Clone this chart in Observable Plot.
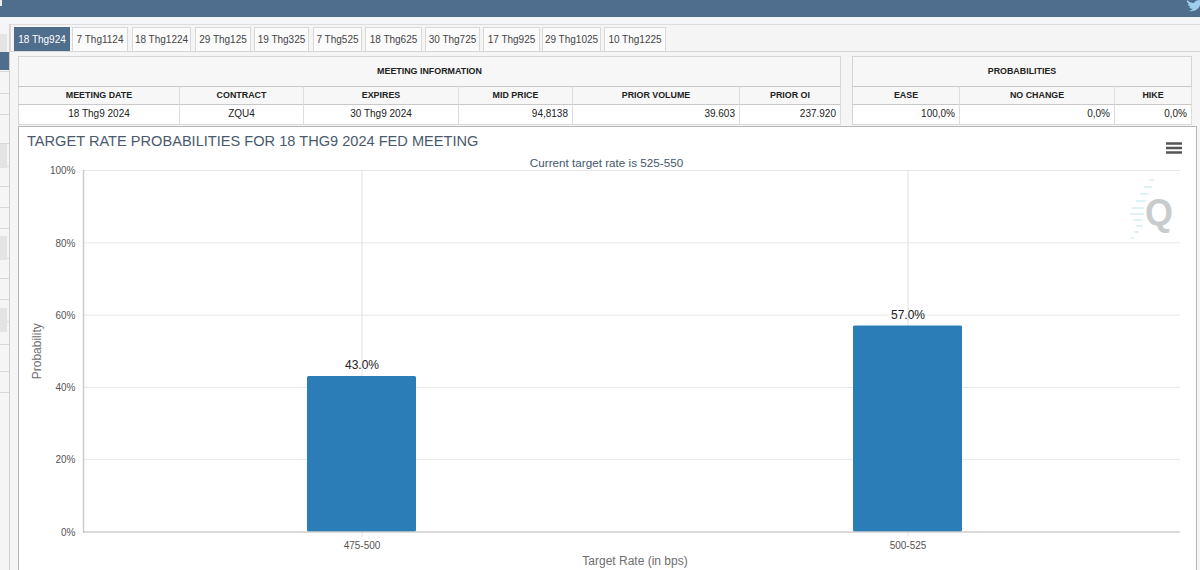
<!DOCTYPE html>
<html>
<head>
<meta charset="utf-8">
<script src="https://cdn.jsdelivr.net/npm/d3@7"></script>
<script src="https://cdn.jsdelivr.net/npm/@observablehq/plot@0.6"></script>
<style>
html,body{margin:0;padding:0;background:#f5f5f5;overflow:hidden}
body{width:1200px;height:570px;position:relative;font-family:"Liberation Sans",Arial,sans-serif;color:#333}
.a{position:absolute;box-sizing:border-box}
.tab{font-size:10px;line-height:23px;text-align:center;background:#fbfbfb;border:1px solid #d9d9d9;border-bottom:none;color:#444;top:27px;height:24px}
.tab.on{background:#4f6d8c;color:#fff;border-color:#4f6d8c}
.cell{font-size:9px;text-align:center;color:#222;white-space:nowrap}
.h{font-weight:bold;font-size:8.9px;background:#f7f7f7;border-right:1px solid #ddd;border-top:1px solid #c9c9c9}
.v{background:#fff;border-right:1px solid #ddd;border-top:1px solid #c9c9c9;font-size:10px;line-height:17px}
.r{text-align:right;padding-right:4px}
#chart svg{display:block;position:absolute;left:0;top:0;background:transparent}
</style>
</head>
<body>
<div class="a" style="left:0;top:0;width:1200px;height:17px;background:#4f6d8c"></div>
<div class="a" style="left:0;top:0;width:2px;height:6px;background:#eee"></div>
<div class="a" style="left:0;top:17px;width:1200px;height:7px;background:#f3f5f6"></div>
<svg class="a" style="left:1186px;top:0" width="14" height="12" viewBox="0 0 14 12"><path d="M1 0 C3 2 5 3 8 3 C9 1 11 0 14 0 L14 5 C13 9 8 12 3 11 C5 10 6 10 7 9 C5 9 4 8 3 7 L4.5 7 C3 6 2 5 2 4 L3 4 C1 3 0.5 1 1 0Z" fill="#9fcdee"/></svg>

<div class="a" id="side" style="left:0;top:0;width:10px;height:570px"></div>
<div class="a" style="left:10px;top:24px;width:1190px;height:28px;background:#f5f5f5;border-top:1px solid #ddd;border-left:1px solid #ddd;border-bottom:1px solid #d5d5d5"></div>
<div id="tabs"></div>
<div id="tables"></div>

<div class="a" style="left:18px;top:126px;width:1179px;height:450px;background:#fff;border:1px solid #b5b5b5"></div>
<div class="a" style="left:27px;top:132px;font-size:14.6px;line-height:18px;color:#4a5a6c;white-space:nowrap">TARGET RATE PROBABILITIES FOR 18 THG9 2024 FED MEETING</div>
<div class="a" style="left:18px;width:1177px;top:156px;text-align:center;font-size:11.7px;color:#44576b">Current target rate is 525-550</div>
<div id="chart" class="a" style="left:0;top:0;width:1200px;height:570px"></div>

<svg class="a" style="left:1128px;top:176px" width="50" height="66" viewBox="0 0 50 66">
  <g stroke="#d8eef4" stroke-width="1.5">
    <path d="M21 4h5M16 11h8M12 18h9M8 25h10M4 32h12M2 38h14M5 44h9M8 50h7M6 56h5M3 62h3"/>
  </g>
  <text x="31" y="49" text-anchor="middle" font-family="Liberation Sans,Arial" font-weight="bold" font-size="36" fill="#c9cccd">Q</text>
</svg>
<svg class="a" style="left:1166px;top:142px" width="16" height="12"><path d="M0 1.5h16M0 6h16M0 10.5h16" stroke="#555" stroke-width="2.4"/></svg>

<script>
// Chart values
const targetRates = ["475-500", "500-525"];
const probabilities = [43.0, 57.0];
const yTicks = [0, 20, 40, 60, 80, 100];

// Page furniture text
const tabLabels = ["18 Thg924","7 Thg1124","18 Thg1224","29 Thg125","19 Thg325","7 Thg525","18 Thg625","30 Thg725","17 Thg925","29 Thg1025","10 Thg1225"];
const tabEdges = [[14,70],[72,128],[132,191],[195,251],[254,309],[313,362],[365,422],[425,480],[483,540],[542,601],[604,666]];
const meetingHeads = ["MEETING DATE","CONTRACT","EXPIRES","MID PRICE","PRIOR VOLUME","PRIOR OI"];
const meetingValues = ["18 Thg9 2024","ZQU4","30 Thg9 2024","94,8138","39.603","237.920"];
const meetingAlign = ["c","c","c","r","r","r"];
const meetingEdges = [18,180,304,459,573,740,841];
const probHeads = ["EASE","NO CHANGE","HIKE"];
const probValues = ["100,0%","0,0%","0,0%"];
const probEdges = [852,960,1115,1192];
const sideRows = [52,71,93,114,143,166,186,207,228,258,278,299,321,344,371,392];
const sideBlocks = [[34,20],[144,24],[236,24],[308,24]];

function el(parent, cls, style, text){
  const d=document.createElement("div");d.className="a "+cls;d.style.cssText=style;
  if(text!=null)d.textContent=text;parent.appendChild(d);return d;
}
const tabs=document.getElementById("tabs");
tabLabels.forEach((t,i)=>{
  const [a,b]=tabEdges[i];
  el(tabs,"tab"+(i===0?" on":""),`left:${a}px;width:${b-a}px`,t);
});
const tables=document.getElementById("tables");
function table(title,edges,heads,vals,al){
  const L=edges[0],R=edges[edges.length-1];
  el(tables,"cell",`left:${L}px;top:56px;width:${R-L}px;height:31px;background:#f7f7f7;border:1px solid #d5d5d5;font-weight:bold;font-size:8.9px;line-height:29px`,title);
  heads.forEach((h,i)=>{
    const w=edges[i+1]-edges[i];
    el(tables,"cell h",`left:${edges[i]}px;top:86px;width:${w}px;height:19px;line-height:16px;${i===0?"border-left:1px solid #d5d5d5;":""}`,h);
    el(tables,"cell v"+(al[i]==="r"?" r":""),`left:${edges[i]}px;top:104px;width:${w}px;height:21px;border-bottom:1px solid #d5d5d5;${i===0?"border-left:1px solid #d5d5d5;":""}`,vals[i]);
  });
}
table("MEETING INFORMATION",meetingEdges,meetingHeads,meetingValues,meetingAlign);
table("PROBABILITIES",probEdges,probHeads,probValues,["r","r","r"]);
const side=document.getElementById("side");
sideRows.forEach(y=>el(side,"",`left:0;top:${y}px;width:9px;height:1px;background:#d8d8d8`));
sideBlocks.forEach(([y,h])=>el(side,"",`left:0;top:${y}px;width:7px;height:${h}px;background:#e4e4e4`));
el(side,"",`left:0;top:52px;width:10px;height:18px;background:#4f6d8c`);
el(side,"",`left:9px;top:24px;width:1px;height:546px;background:#d0d0d0`);

const data = targetRates.map((rate,i)=>({rate,value:probabilities[i]}));
const chart = Plot.plot({
  width:1200,height:570,
  marginTop:170,marginBottom:38.5,marginLeft:83,marginRight:20,
  style:{background:"transparent",fontFamily:"Liberation Sans, Arial, sans-serif",overflow:"visible"},
  x:{type:"band",domain:targetRates,range:[88.5,1180.5],paddingInner:0.8,paddingOuter:0.4,align:0.5,axis:null},
  y:{domain:[0,100],axis:null},
  marks:[
    Plot.ruleY(yTicks.filter(d=>d>0),{stroke:"#e6e6e6",strokeWidth:1}),
    Plot.ruleX(targetRates,{x:d=>d,y1:100,y2:0,insetBottom:-5,stroke:"#e0e0e0",strokeWidth:1}),
    Plot.frame({anchor:"left",stroke:"#cccccc",strokeWidth:1.5}),
    Plot.barY(data,{x:"rate",y:"value",fill:"#2b7db8",rx:1.5}),
    Plot.ruleY([0],{stroke:"#b5b5b5",strokeWidth:1}),
    Plot.text(data,{x:"rate",y:"value",text:d=>d.value.toFixed(1)+"%",dy:-11,fontSize:12,fill:"#222"}),
    Plot.axisY({ticks:yTicks,tickSize:0,tickPadding:8,dy:0.5,tickFormat:d=>d+"%",fontSize:10,color:"#555",label:null,anchor:"left"}),
    Plot.axisX({tickSize:0,tickPadding:10,fontSize:10,color:"#555",label:null,anchor:"bottom"}),
    Plot.text(["Probability"],{y:()=>50,frameAnchor:"left",textAnchor:"middle",dx:-46,rotate:-90,fontSize:12,fill:"#6e6e6e"}),
    Plot.text(["Target Rate (in bps)"],{frameAnchor:"bottom",lineAnchor:"middle",dx:3,dy:29.5,fontSize:12,fill:"#6e6e6e"})
  ]
});
document.getElementById("chart").appendChild(chart);
</script>
</body>
</html>
